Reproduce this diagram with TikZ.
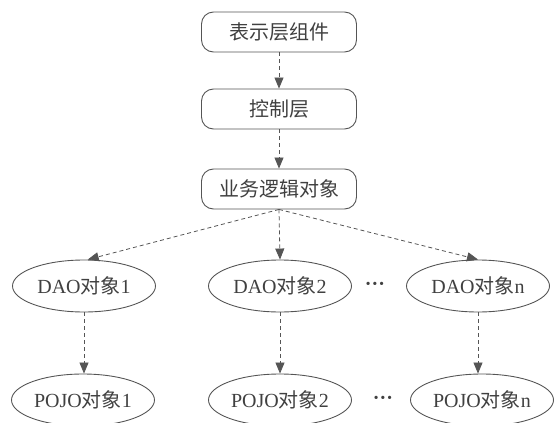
\documentclass[tikz,border=0pt]{standalone}
\usepackage{fontspec}
\setmainfont{Liberation Serif}
\newfontfamily\cjk{Noto Sans CJK SC}
\usetikzlibrary{arrows.meta,shapes.geometric}
\definecolor{ln}{HTML}{555555}
\definecolor{tx}{HTML}{404040}
\tikzset{
  boxnode/.style={draw=ln, line width=0.9pt, rounded corners=12pt, minimum width=155pt, minimum height=40pt, text=tx, font=\fontsize{20}{22}\selectfont\cjk},
  ellnode/.style={draw=ln, line width=0.9pt, ellipse, minimum width=143pt, minimum height=52pt, inner sep=0pt, text=tx, font=\fontsize{20}{22}\selectfont},
  darrow/.style={draw=ln, line width=0.8pt, dash pattern=on 4pt off 3pt, -{Triangle[length=11pt,width=9pt]}},
  dotsnode/.style={text=tx, font=\fontsize{20}{22}\selectfont\bfseries}
}
\begin{document}
\begin{tikzpicture}[x=1pt,y=-1pt]
\useasboundingbox (0,0) rectangle (557,423);
\node[boxnode] (b1) at (279,32) {表示层组件};
\node[boxnode] (b2) at (279,109) {控制层};
\node[boxnode] (b3) at (279,189) {业务逻辑对象};
\node[ellnode] (d1) at (84,286) {DAO{\cjk 对象}1};
\node[ellnode] (d2) at (280,286) {DAO{\cjk 对象}2};
\node[ellnode] (dn) at (478,286) {DAO{\cjk 对象}n};
\node[ellnode] (p1) at (83,400) {POJO{\cjk 对象}1};
\node[ellnode] (p2) at (280,400) {POJO{\cjk 对象}2};
\node[ellnode] (pn) at (482,400) {POJO{\cjk 对象}n};
\node[dotsnode] (dots1) at (375,286) {···};
\node[dotsnode] (dots2) at (383,400) {···};
\draw[darrow] (b1) -- (b2);
\draw[darrow] (b2) -- (b3);
\draw[darrow] (b3.south) -- (d1.82);
\draw[darrow] (b3.south) -- (d2.north);
\draw[darrow] (b3.south) -- (dn.north);
\draw[darrow] (d1.south) -- (d1.south |- p1.north);
\draw[darrow] (d2.south) -- (p2.north);
\draw[darrow] (dn.south) -- (dn.south |- pn.north);
\end{tikzpicture}
\end{document}
